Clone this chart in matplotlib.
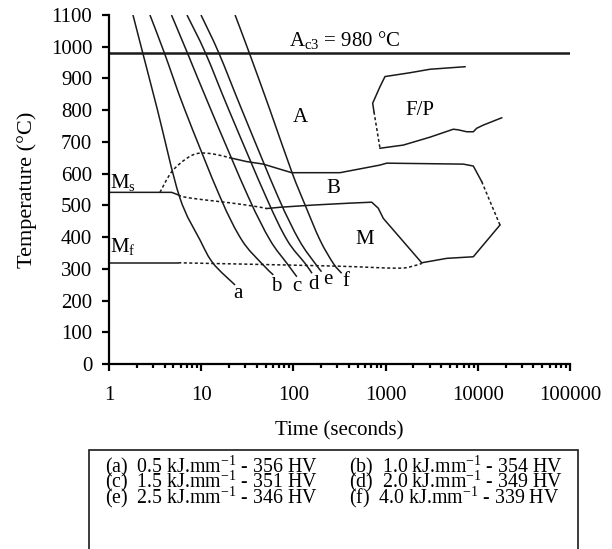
import numpy as np
import matplotlib
matplotlib.use("Agg")
import matplotlib.pyplot as plt
from matplotlib.patches import Rectangle, PathPatch
from matplotlib.path import Path

plt.rcParams['font.family'] = ['Liberation Serif', 'DejaVu Serif']
plt.rcParams['mathtext.fontset'] = 'custom'
plt.rcParams['mathtext.rm'] = 'Liberation Serif'
plt.rcParams['mathtext.default'] = 'regular'

# cooling curves (time s, temperature C)
a_t = [1.82, 2.32, 3.36, 5.82, 9.70, 13.5, 23.3]
a_T = [1100, 981, 800, 527, 391, 317, 249]
b_t = [2.78, 3.98, 6.67, 16.0, 27.5, 45.3, 60.5]
b_T = [1100, 981, 800, 527, 391, 317, 281]
c_t = [4.76, 7.07, 12.8, 32.4, 55.7, 85.2, 109]
c_T = [1100, 981, 800, 527, 391, 317, 275]
d_t = [7.01, 11.1, 20.0, 50.4, 85.2, 134, 159]
d_T = [1100, 981, 800, 527, 391, 317, 286]
e_t = [9.95, 15.5, 27.7, 68.1, 115, 172, 202]
e_T = [1100, 981, 800, 527, 391, 317, 291]
f_t = [23.3, 33.2, 55.8, 95.9, 134, 194, 271, 334]
f_T = [1100, 981, 800, 606, 501, 391, 317, 286]
curve_names = ['a', 'b', 'c', 'd', 'e', 'f']
label_t = [25.2, 65.9, 109, 164, 239, 369]
label_T = [223, 244, 244, 249, 267, 259]

# transformation lines
ms_t = [1, 4.79, 5.64]
ms_T = [541, 541, 533]
ms_up_dash_t = [3.57, 4.79, 6.96, 9.30, 13.5, 20.5]
ms_up_dash_T = [541, 606, 648, 664, 662, 650]
b_up_t = [20.5, 31.1, 47.2, 71.6, 95.9, 320, 869, 1027, 6966, 8938, 11020]
b_up_T = [650, 638, 630, 614, 603, 603, 627, 633, 630, 624, 575]
b_end_dash_t = [11020, 17400]
b_end_dash_T = [575, 438]
m_right_t = [17400, 8938, 4603, 2464]
m_right_T = [438, 338, 333, 319]
ms_low_dash_t = [5.64, 6.40, 9.70, 20.5, 40.0, 51.3]
ms_low_dash_T = [533, 527, 519, 508, 496, 490]
b_low_t = [51.3, 71.6, 164, 411, 707, 833, 944, 2464]
b_low_T = [490, 494, 501, 507, 510, 491, 459, 319]
mf_t = [1, 5.64]
mf_T = [319, 319]
mf_dash_t = [5.64, 249, 1320, 1997, 2464]
mf_dash_T = [319, 309, 302, 309, 317]

# ferrite / pearlite region
fp_up_t = [7266, 3032, 1839, 985, 869, 724, 748]
fp_up_T = [937, 929, 918, 906, 874, 822, 795]
fp_dash_t = [748, 869]
fp_dash_T = [795, 680]
fp_low_t = [869, 1556, 3032, 5424, 6148, 7580, 8938, 9730, 11470, 18170]
fp_low_T = [680, 690, 715, 740, 738, 732, 732, 743, 753, 776]

legend_rows = [
    ("(a)  0.5 kJ.mm$^{-1}$ - 356 HV", "(b)  1.0 kJ.mm$^{-1}$ - 354 HV"),
    ("(c)  1.5 kJ.mm$^{-1}$ - 351 HV", "(d)  2.0 kJ.mm$^{-1}$ - 349 HV"),
    ("(e)  2.5 kJ.mm$^{-1}$ - 346 HV", "(f)  4.0 kJ.mm$^{-1}$ - 339 HV"),
]


def smooth(ax, t, T, **kw):
    # smooth curve through the points (bezier path, log time axis)
    x = np.log10(t)
    y = np.asarray(T, float)
    p = np.column_stack([x, y])
    verts = [p[0]]
    codes = [Path.MOVETO]
    for i in range(len(p) - 1):
        p0 = p[i - 1] if i > 0 else p[i]
        p3 = p[i + 2] if i + 2 < len(p) else p[i + 1]
        verts += [p[i] + (p[i + 1] - p0) / 6, p[i + 1] - (p3 - p[i]) / 6, p[i + 1]]
        codes += [Path.CURVE4] * 3
    verts = np.array(verts)
    verts[:, 0] = 10 ** verts[:, 0]
    ax.add_patch(PathPatch(Path(verts, codes), fill=False, **kw))


fig = plt.figure(figsize=(6.12, 5.49), dpi=100)
ax = fig.add_axes([109/612, 1-364/549, 461/612, 349/549])
ax.set_xscale('log')
ax.set_xlim(1, 100000)
ax.set_ylim(0, 1100)

k = dict(color='#1a1a1a', lw=1.1)
dash = dict(color='#1a1a1a', lw=1.1, linestyle=(0, (2, 1.6)))
kp = dict(edgecolor='#1a1a1a', lw=1.1)
dp = dict(edgecolor='#1a1a1a', lw=1.1, linestyle=(0, (2, 1.6)))

for t, T in [(a_t, a_T), (b_t, b_T), (c_t, c_T), (d_t, d_T), (e_t, e_T), (f_t, f_T)]:
    smooth(ax, t, T, **kp)
for name, lt, lT in zip(curve_names, label_t, label_T):
    ax.text(lt, lT, name, ha='center', va='center', fontsize=15)

ax.axhline(980, color='#1a1a1a', lw=1.8)
ax.text(89, 1003, "A$_{c3}$ = 980 °C", fontsize=15, ha='left', va='baseline')

ax.plot(ms_t, ms_T, **k)
smooth(ax, ms_up_dash_t, ms_up_dash_T, **dp)
ax.plot(b_up_t, b_up_T, **k)
ax.plot(b_end_dash_t, b_end_dash_T, **dash)
ax.plot(m_right_t, m_right_T, **k)
smooth(ax, ms_low_dash_t, ms_low_dash_T, **dp)
ax.plot(b_low_t, b_low_T, **k)
ax.plot(mf_t, mf_T, **k)
smooth(ax, mf_dash_t, mf_dash_T, **dp)
ax.plot(fp_up_t, fp_up_T, **k)
ax.plot(fp_dash_t, fp_dash_T, **dash)
ax.plot(fp_low_t, fp_low_T, **k)

ax.text(1.03, 556, "M$_s$", fontsize=15, ha='left', va='baseline')
ax.text(1.03, 352, "M$_f$", fontsize=15, ha='left', va='baseline')
ax.text(118, 778, "A", fontsize=15, ha='center', va='center')
ax.text(271, 554, "B", fontsize=15, ha='center', va='center')
ax.text(598, 393, "M", fontsize=15, ha='center', va='center')
ax.text(2361, 800, "F/P", fontsize=15, ha='center', va='center')

for s in ['top', 'right']:
    ax.spines[s].set_visible(False)
for s in ['left', 'bottom']:
    ax.spines[s].set_linewidth(1.6)
ax.set_yticks(np.arange(0, 1101, 100))
ax.set_xticks([1, 10, 100, 1000, 10000, 100000])
ax.set_xticklabels(['1', '10', '100', '1000', '10000', '100000'])
ax.tick_params(axis='both', which='major', direction='out', length=5, width=1.6, labelsize=15)
ax.tick_params(axis='x', which='major', pad=11)
ax.tick_params(axis='y', which='major', pad=7)
ax.tick_params(axis='x', which='minor', direction='out', length=3, width=1.6)
ax.set_xlabel("Time (seconds)", fontsize=15)
ax.set_ylabel("Temperature (°C)", fontsize=16)
ax.xaxis.set_label_coords(0.5, -0.163)
ax.yaxis.set_label_coords(-0.156, 0.5)

fig.patches.append(Rectangle((89/612, -0.01), (578-89)/612, 0.01 + 1-450/549,
                             transform=fig.transFigure, fill=False, lw=1.2,
                             edgecolor='#1a1a1a'))
row_y = [1-466/549, 1-481.5/549, 1-497/549]
for (left, right), y in zip(legend_rows, row_y):
    fig.text(105/612, y, left, fontsize=14.3, va='center', ha='left')
    fig.text(349/612, y, right, fontsize=14.3, va='center', ha='left')

fig.savefig("out.png", dpi=100)
